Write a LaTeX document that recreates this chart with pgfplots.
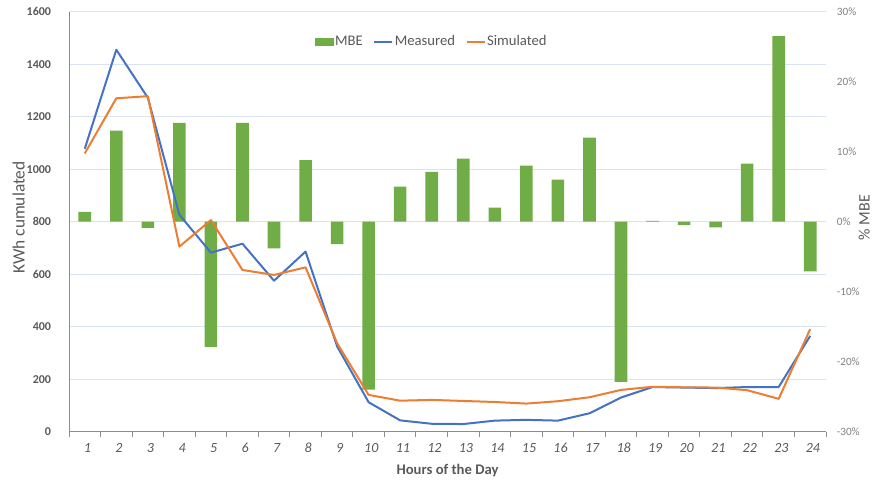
\documentclass[border=0pt]{standalone}
\usepackage{fontspec}
\setmainfont{Carlito}
\usepackage{pgfplots}
\usepackage{pgfplotstable}
\pgfplotsset{compat=1.18}
\definecolor{mbegreen}{HTML}{70AD47}
\definecolor{measblue}{HTML}{4472C4}
\definecolor{simorange}{HTML}{ED7D31}
\definecolor{gridblue}{HTML}{D9E3F4}
\definecolor{axgray}{HTML}{8C8C8C}
\definecolor{txtgray}{HTML}{595959}
\definecolor{lightgray}{HTML}{808080}

\pgfplotstableread{
hour meas sim mbe
1 1078 1060 1.4
2 1455 1270 13.0
3 1272 1278 -0.9
4 826 705 14.1
5 682 806 -17.9
6 716 616 14.1
7 575 597 -3.8
8 686 626 8.8
9 325 337 -3.2
10 112 140 -24.0
11 43 118 5.0
12 30 121 7.1
13 29 117 9.0
14 42 113 2.0
15 45 107 8.0
16 42 116 6.0
17 70 131 12.0
18 130 159 -22.9
19 170 171 0.1
20 168 169 -0.5
21 166 168 -0.8
22 170 158 8.3
23 170 125 26.5
24 365 391 -7.1
}\datatable

\pgfplotsset{
  base/.style={
    at={(51.75pt,40pt)}, anchor=south west,
    width=567.75pt, height=315pt, scale only axis,
    xmin=0.5, xmax=24.5,
    /pgf/number format/assume math mode=true,
    /pgf/number format/1000 sep={},
  }
}

\begin{document}
\begin{tikzpicture}
\path[use as bounding box] (0,0) rectangle (656.25pt,363.75pt);

% Axis A: grid, left axis, x axis
\begin{axis}[base,
  ymin=0, ymax=1600, ytick={0,200,...,1600},
  ymajorgrids, grid style={gridblue, line width=0.75pt},
  axis x line*=bottom, axis y line*=left,
  axis line style={-, axgray, line width=0.75pt},
  xtick={1,...,24}, minor xtick={0.5,1.5,...,24.5},
  major x tick style={draw=none},
  minor x tick style={axgray, line width=0.75pt},
  minor tick length=4pt, tick align=outside,
  major y tick style={draw=none},
  yticklabel style={font=\fontsize{9}{10}\selectfont\bfseries, text=txtgray, anchor=east, inner sep=0pt, xshift=-9pt},
  xticklabel style={font=\fontsize{10.5}{12}\selectfont\itshape, text=txtgray, anchor=center, yshift=-8pt, xshift=2pt},
  xlabel={Hours of the Day},
  xlabel style={font=\fontsize{11}{13}\selectfont\bfseries, text=txtgray, at={(axis description cs:0.5,-0.092)}, anchor=center},
  ylabel={KWh cumulated},
  ylabel style={font=\fontsize{13}{15}\selectfont, text=txtgray, at={(axis description cs:-0.0665,0.51)}, anchor=center, rotate=0},
]
\end{axis}

% Axis B: MBE bars, right axis
\begin{axis}[base,
  ymin=-30, ymax=30, ytick={-30,-20,...,30},
  axis x line=none, axis y line*=right,
  axis line style={draw=none},
  major y tick style={draw=none},
  yticklabel={\pgfmathprintnumber{\tick}\%},
  yticklabel style={font=\fontsize{8.4}{10}\selectfont, text=lightgray, anchor=west, inner sep=0pt, xshift=8pt},
  ylabel={\% MBE},
  ylabel style={font=\fontsize{12}{14}\selectfont, text=txtgray, at={(axis description cs:1.0505,0.51)}, anchor=center, rotate=0},
]
\addplot[ybar, bar width=0.4, fill=mbegreen, draw=none] table[x=hour,y=mbe]{\datatable};
\end{axis}

% Axis C: lines
\begin{axis}[base,
  ymin=0, ymax=1600, hide axis,
  legend style={at={(axis description cs:0.479,0.928)}, anchor=center, draw=none, fill=none,
    font=\fontsize{11}{13}\selectfont, text=txtgray, legend columns=3,
    /tikz/every even column/.append style={column sep=7pt},
    nodes={inner sep=1pt}},
  legend cell align=left,
]
\addlegendimage{legend image code/.code={\fill[mbegreen] (0pt,-2.5pt) rectangle (13.5pt,2.5pt);}}
\addlegendentry{MBE}
\addplot[measblue, line width=1.5pt, line join=round,
  legend image code/.code={\draw[measblue, line width=1.5pt] (0pt,0pt) -- (13.5pt,0pt);}]
  table[x=hour,y=meas]{\datatable};
\addlegendentry{Measured}
\addplot[simorange, line width=1.5pt, line join=round,
  legend image code/.code={\draw[simorange, line width=1.5pt] (0pt,0pt) -- (13.5pt,0pt);}]
  table[x=hour,y=sim]{\datatable};
\addlegendentry{Simulated}
\end{axis}
\end{tikzpicture}
\end{document}
